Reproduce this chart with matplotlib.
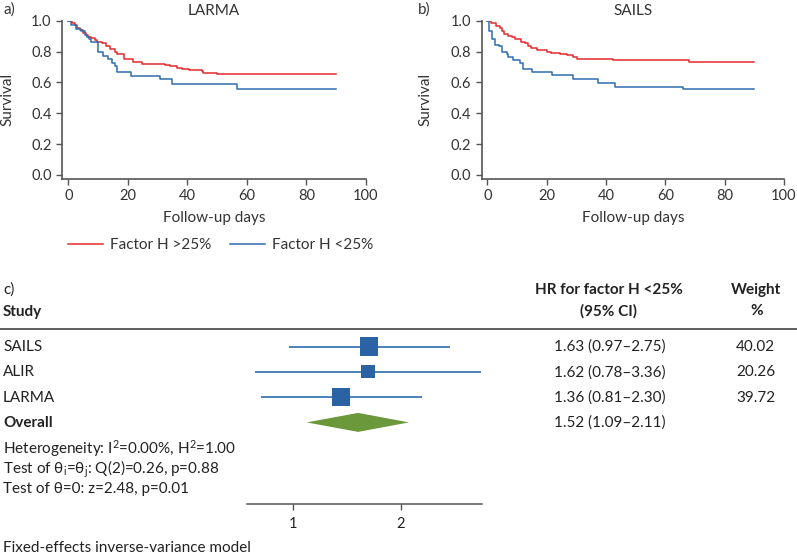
import matplotlib
matplotlib.use("Agg")
import matplotlib.pyplot as plt
import numpy as np
from matplotlib.lines import Line2D
from matplotlib.patches import Polygon
from matplotlib.transforms import blended_transform_factory

plt.rcParams['font.family'] = ['Lato', 'DejaVu Sans']
plt.rcParams['mathtext.fontset'] = 'custom'
plt.rcParams['mathtext.rm'] = 'Lato'
plt.rcParams['mathtext.it'] = 'Lato:italic'
plt.rcParams['text.color'] = '#222222'

RED = '#e5282b'
BLUE = '#2f6cae'
GREY = '#555555'

# Kaplan-Meier steps (days, survival)
larma_hi_t = [0, 1.1, 2.2, 3.0, 3.9, 5.0, 5.9, 6.7, 7.8, 9.0, 9.8, 11.2, 12.7, 14.0,
              15.7, 16.3, 18.7, 21.6, 24.7, 32.5, 34.2, 36.4, 38.1, 40.4, 44.8, 45.4, 49.9, 90]
larma_hi_s = [1.0, 0.987, 0.97, 0.955, 0.94, 0.92, 0.91, 0.896, 0.885, 0.875, 0.86, 0.853, 0.838, 0.814,
              0.80, 0.784, 0.75, 0.734, 0.72, 0.714, 0.706, 0.695, 0.687, 0.68, 0.674, 0.663, 0.652, 0.652]
larma_lo_t = [0, 0.9, 2.6, 4.3, 5.6, 6.2, 7.1, 7.8, 10.1, 11.8, 13.2, 14.8, 15.7, 16.5, 21.0, 30.8, 34.8, 56.6, 90]
larma_lo_s = [1.0, 0.972, 0.946, 0.933, 0.907, 0.892, 0.879, 0.86, 0.795, 0.773, 0.752, 0.728, 0.706, 0.67,
              0.641, 0.622, 0.592, 0.557, 0.557]

sails_hi_t = [0, 1.1, 2.9, 4.3, 4.8, 5.6, 7.1, 8.2, 9.3, 11.2, 12.7, 13.8, 14.6, 16.6, 20.0, 21.3,
              24.5, 26.7, 28.8, 30.1, 42.5, 68.1, 90]
sails_hi_s = [1.0, 0.983, 0.965, 0.952, 0.935, 0.911, 0.903, 0.892, 0.879, 0.864, 0.853, 0.836, 0.821, 0.81,
              0.799, 0.79, 0.782, 0.775, 0.762, 0.749, 0.745, 0.73, 0.73]
sails_lo_t = [0, 0.7, 1.5, 2.6, 4.0, 4.8, 6.7, 7.1, 8.8, 11.0, 11.9, 14.9, 21.7, 29.0, 37.4, 43.0, 66.1, 90]
sails_lo_s = [1.0, 0.935, 0.881, 0.844, 0.834, 0.799, 0.784, 0.762, 0.745, 0.724, 0.687, 0.667, 0.648,
              0.624, 0.598, 0.572, 0.557, 0.557]

# forest plot
studies = ['SAILS', 'ALIR', 'LARMA']
hr = [1.63, 1.62, 1.36]
ci_lo = [0.97, 0.78, 0.81]
ci_hi = [2.75, 3.36, 2.30]
weights = [40.02, 20.26, 39.72]
overall = (1.52, 1.09, 2.11)

W, H = 797, 560
fig = plt.figure(figsize=(W / 100, H / 100), dpi=100)


def px(x0, y0, x1, y1):
    return [x0 / W, 1 - y1 / H, (x1 - x0) / W, (y1 - y0) / H]


def km_panel(rect, t_hi, s_hi, t_lo, s_lo, title, xmin, ylab_x):
    ax = fig.add_axes(rect)
    ax.step(t_hi, s_hi, where='post', color=RED, lw=1.1, label='Factor H >25%')
    ax.step(t_lo, s_lo, where='post', color=BLUE, lw=1.1, label='Factor H <25%')
    ax.set_xlim(xmin, 100)
    ax.set_ylim(-0.026, 1.0)
    ax.set_xticks(np.arange(0, 101, 20))
    ax.set_yticks(np.arange(0, 1.01, 0.2))
    ax.yaxis.set_major_formatter(matplotlib.ticker.FormatStrFormatter('%.1f'))
    for s in ['top', 'right']:
        ax.spines[s].set_visible(False)
    for s in ['left', 'bottom']:
        ax.spines[s].set_color(GREY)
        ax.spines[s].set_linewidth(1.2)
    ax.tick_params(colors=GREY, labelcolor='#333333', labelsize=10.5, length=4, width=1)
    ax.set_title(title, fontsize=11, pad=4, color='#333333')
    ax.set_xlabel('Follow-up days', fontsize=11, color='#333333')
    ax.set_ylabel('Survival', fontsize=11, color='#333333')
    ax.xaxis.set_label_coords(0.5, -0.205)
    ax.yaxis.set_label_coords(ylab_x, 0.5)
    return ax


ax_a = km_panel(px(62, 20.7, 366, 179), larma_hi_t, larma_hi_s, larma_lo_t, larma_lo_s,
                'LARMA', -2.1, -0.155)
ax_b = km_panel(px(481.7, 20.7, 784, 179), sails_hi_t, sails_hi_s, sails_lo_t, sails_lo_s,
                'SAILS', -1.9, -0.164)

fig.legend(*ax_a.get_legend_handles_labels(), loc='center left',
           bbox_to_anchor=(68 / W, 1 - 245 / H), ncol=2, frameon=False, fontsize=11,
           handlelength=2.3, handletextpad=0.45, columnspacing=1.2, borderpad=0, borderaxespad=0,
           labelcolor='#333333')

fig.text(3 / W, 1 - 10 / H, 'a)', fontsize=11, va='center', color='#333333')
fig.text(418 / W, 1 - 10 / H, 'b)', fontsize=11, va='center', color='#333333')
fig.text(3 / W, 1 - 290 / H, 'c)', fontsize=11, va='center')

# forest panel
row_px0, row_step = 346.5, 25.3
ax_c = fig.add_axes(px(247, 335, 482, 504))
ax_c.set_xscale('log', base=2)
ax_c.set_xlim(0.742, 3.38)
ax_c.set_ylim((504 - row_px0) / row_step, (335 - row_px0) / row_step)
rows = np.arange(len(studies))
ax_c.hlines(rows, ci_lo, ci_hi, color=BLUE, lw=1.2)
ax_c.scatter(hr, rows, s=[4.4 * w for w in weights], marker='s', color='#2a62a3', zorder=3, linewidths=0)
est, lo, hi = overall
d = 9.5 / row_step
ax_c.add_patch(Polygon([(lo, 3), (est, 3 - d), (hi, 3), (est, 3 + d)], closed=True,
                       color='#6a983a', lw=0))
for s in ['top', 'right', 'left']:
    ax_c.spines[s].set_visible(False)
ax_c.spines['bottom'].set_color(GREY)
ax_c.spines['bottom'].set_linewidth(1.1)
ax_c.set_yticks([])
ax_c.set_xticks([1, 2])
ax_c.set_xticklabels(['1', '2'])
ax_c.xaxis.set_minor_locator(matplotlib.ticker.NullLocator())
ax_c.tick_params(axis='x', colors=GREY, labelcolor='#222222', labelsize=10.5, length=4, width=1, pad=5)

tr = blended_transform_factory(fig.transFigure, ax_c.transData)
labels = studies + ['Overall']
hr_txt = ['%.2f (%.2f\u2013%.2f)' % v for v in zip(hr, ci_lo, ci_hi)] + \
         ['%.2f (%.2f\u2013%.2f)' % overall]
for i, lab in enumerate(labels):
    yy = i + 0.02
    ax_c.text(3 / W, yy, lab, transform=tr, va='center', fontsize=11,
              fontweight='bold' if lab == 'Overall' else 'normal')
    ax_c.text(554 / W, yy, hr_txt[i], transform=tr, va='center', fontsize=11)
for i, w in enumerate(weights):
    ax_c.text(775 / W, i + 0.02, '%.2f' % w, transform=tr, va='center', ha='right', fontsize=11)

fig.text(3 / W, 1 - 312 / H, 'Study', fontsize=11, fontweight='bold', va='center')
fig.text(609 / W, 1 - 290 / H, 'HR for factor H <25%', fontsize=11, fontweight='bold', va='center', ha='center')
fig.text(609 / W, 1 - 311 / H, '(95% CI)', fontsize=11, fontweight='bold', va='center', ha='center')
fig.text(756 / W, 1 - 290 / H, 'Weight', fontsize=11, fontweight='bold', va='center', ha='center')
fig.text(757 / W, 1 - 311 / H, '%', fontsize=11, fontweight='bold', va='center', ha='center')
fig.add_artist(Line2D([0, 1], [1 - 328.5 / H] * 2, color='#333333', lw=1.1))

fig.text(3 / W, 1 - 449 / H, r'Heterogeneity: I$^\mathrm{2}$=0.00%, H$^\mathrm{2}$=1.00', fontsize=11, va='center')
fig.text(3 / W, 1 - 469 / H, r'Test of θ$_\mathrm{i}$=θ$_\mathrm{j}$: Q(2)=0.26, p=0.88', fontsize=11, va='center')
fig.text(3 / W, 1 - 489 / H, 'Test of θ=0: z=2.48, p=0.01', fontsize=11, va='center')
fig.text(3 / W, 1 - 548 / H, 'Fixed-effects inverse-variance model', fontsize=11, va='center')

fig.savefig('out.png', dpi=100)
